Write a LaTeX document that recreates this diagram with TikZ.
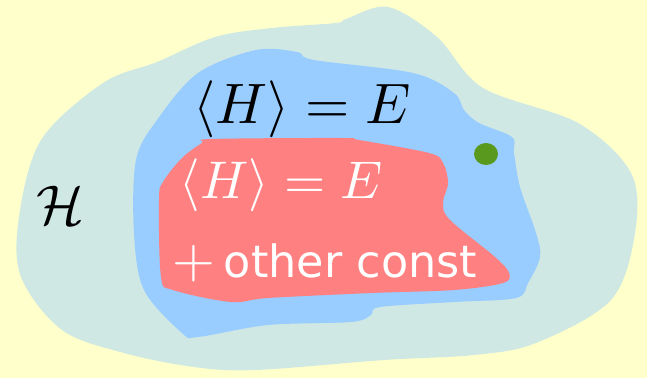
\documentclass[tikz,border=0pt]{standalone}
\usepackage{fontspec}
\usepackage{graphicx}
\newfontfamily\dejavu{DejaVu Sans}
\definecolor{bgc}{RGB}{255,255,204}
\definecolor{outerc}{RGB}{207,232,228}
\definecolor{midc}{RGB}{153,204,255}
\definecolor{innerc}{RGB}{255,128,128}
\definecolor{dotc}{RGB}{89,154,30}
\tikzset{
  blob/.style={smooth cycle, tension=0.55},
  mathlabel/.style={anchor=base, inner sep=0pt},
  constlabel/.style={anchor=base west, inner sep=0pt, text=white},
}
\begin{document}
\begin{tikzpicture}[x=1pt,y=-1pt]
\fill[bgc] (0,0) rectangle (647,378);
\useasboundingbox (0,0) rectangle (647,378);
% outer set H
\fill[outerc] plot[blob] coordinates {
 (336,23) (346,19) (388,7) (437,37) (483,88) (578,123) (631,173) (635,233) (611,300)
 (536,343) (474,355) (384,360) (256,370) (194,367) (124,353) (62,330)
 (21,277) (19,217) (41,140) (103,83) (157,62) (215,37) (272,28)};
% middle set <H>=E
\fill[midc] plot[blob] coordinates {
 (256,50) (297,52) (314,60) (413,73) (454,93) (464,110) (479,123) (512,137)
 (514,153) (520,187) (536,233) (540,257) (528,283) (516,298) (454,302)
 (380,307) (371,315) (351,322) (268,325) (198,337) (182,333) (144,290)
 (134,233) (136,160) (157,120) (198,73)};
% inner set
\fill[innerc] plot[blob] coordinates {
 (212,139) (342,138) (359,140) (429,153) (443,163) (448,183) (443,203)
 (450,220) (495,257) (509,273) (503,283) (454,290) (371,293) (268,298)
 (231,302) (173,290) (161,277) (159,200) (163,182) (182,158) (202,143)};
% green point
\fill[dotc] (486,154) ellipse [x radius=12pt, y radius=11pt];
% labels
\node[mathlabel] (hilb) at (60,224) {\scalebox{5.6}{$\mathcal{H}$}};
\node[mathlabel] (energy) at (302,123) {\scalebox{5.7}{$\langle H\rangle = E$}};
\node[mathlabel, text=white] (energy2) at (281,198) {\scalebox{5.3}{$\langle H\rangle = E$}};
\node[constlabel] (other) at (172,277) {\scalebox{5.5}{$+$}\hspace{9pt}{\dejavu\fontsize{44.5}{46}\selectfont other const}};
\end{tikzpicture}
\end{document}
